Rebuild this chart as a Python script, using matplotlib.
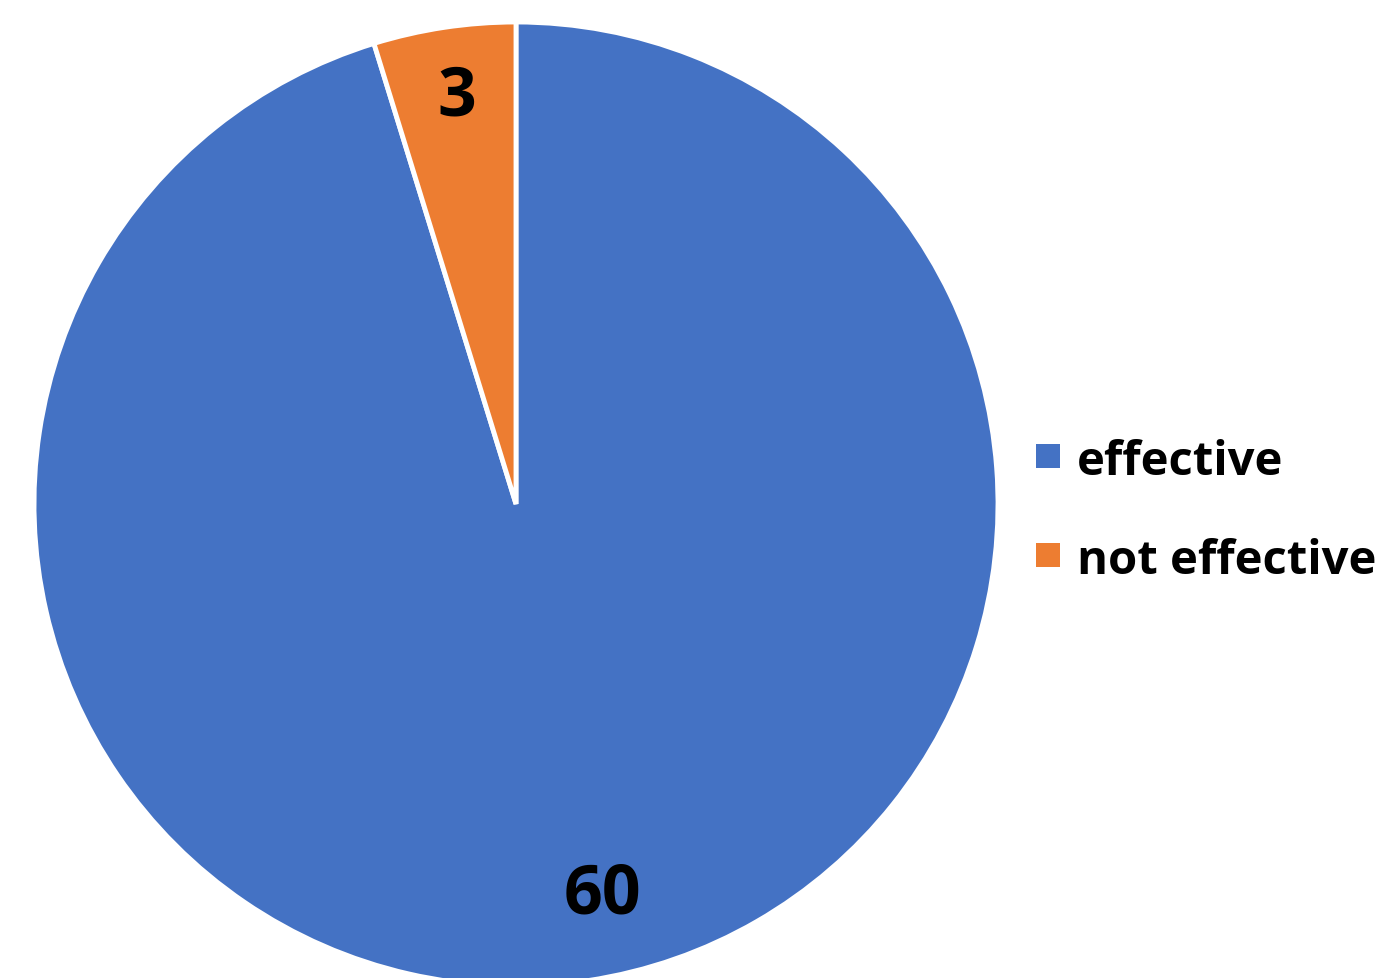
import numpy as np
import matplotlib.pyplot as plt
from matplotlib.patches import Rectangle

labels = ['effective', 'not effective']
values = [60, 3]
colors = ['#4472C4', '#ED7D31']

plt.rcParams['font.family'] = ['Open Sans', 'DejaVu Sans']

W, H = 1382, 979
fig = plt.figure(figsize=(W / 100, H / 100), dpi=100)
# pie centre ~ (516, 505) px, radius ~ 482 px
ax = fig.add_axes([34 / W, (H - 987) / H, 964 / W, 964 / H])
wedges, _ = ax.pie(values, colors=colors, startangle=90, counterclock=False,
                   radius=1, wedgeprops=dict(edgecolor='white', linewidth=3.5))
ax.set_xlim(-1, 1)
ax.set_ylim(-1, 1)
ax.set_aspect('equal')
ax.axis('off')

# value labels (polar position inside each wedge, as Excel places them)
label_pos = [(0.83, -77.5), (0.855, 98.2)]
for v, (r, a) in zip(values, label_pos):
    t = np.deg2rad(a)
    ax.text(r * np.cos(t), r * np.sin(t), str(v), ha='center', va='center',
            fontsize=49, fontweight='bold', color='black')

# legend drawn by hand
for i, (lab, c) in enumerate(zip(labels, colors)):
    yc = 1 - (457 + i * 99) / H
    fig.patches.append(Rectangle((1036 / W, yc - 12 / H), 24 / W, 24 / H,
                                 transform=fig.transFigure, facecolor=c,
                                 edgecolor='none'))
    fig.text(1077 / W, yc, lab, ha='left', va='center_baseline', fontsize=34,
             fontweight='bold', color='black')

fig.savefig('out.png', dpi=100)
